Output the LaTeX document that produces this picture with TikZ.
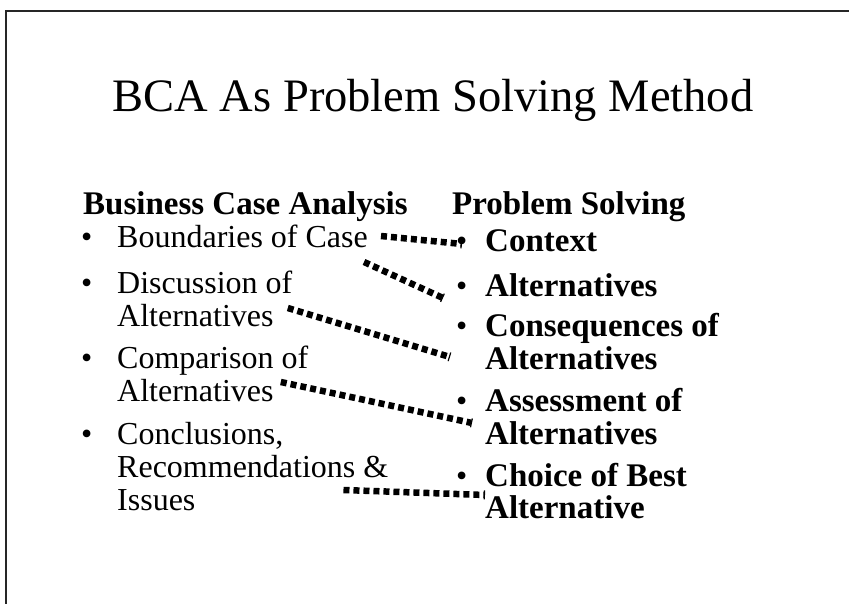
\documentclass[tikz,border=0pt]{standalone}
\usepackage{fontspec}
\setmainfont{Liberation Serif}
\usetikzlibrary{arrows.meta}
\tikzset{body/.style={anchor=base west, inner sep=0pt, font=\fontsize{32}{36}\selectfont}}
\tikzset{bold/.style={body, font=\fontsize{33}{36}\selectfont\bfseries}}
\tikzset{link/.style={line width=6.5pt, dash pattern=on 6pt off 4pt, -{Bar[width=9pt, line width=1.2pt]}}}

\begin{document}
\begin{tikzpicture}[x=1pt, y=-1pt]
      \useasboundingbox (0, 0) rectangle (849, 604);
      \draw[line width=1.7pt, black!85] (852, 11) -- (6, 11) -- (6, 606);

      \node[anchor=base, inner sep=0pt, font=\fontsize{46.5}{50}\selectfont] (title) at (433, 112) {BCA As Problem Solving Method};

      % left column
      \node[bold] (hl) at (83, 215) {Business Case Analysis};
      \node[body] (b1) at (81, 248) {•};
      \node[body] (bnd) at (117, 248) {Boundaries of Case};
      \node[body] (b2) at (81, 293) {•};
      \node[body] (dis1) at (117, 293) {Discussion of};
      \node[body] (dis2) at (117, 326) {Alternatives};
      \node[body] (b3) at (81, 368) {•};
      \node[body] (cmp1) at (117, 368) {Comparison of};
      \node[body] (cmp2) at (117, 401) {Alternatives};
      \node[body] (b4) at (81, 444) {•};
      \node[body] (con1) at (117, 444) {Conclusions,};
      \node[body] (con2) at (117, 477) {Recommendations \&};
      \node[body] (con3) at (117, 510) {Issues};

      % right column
      \node[bold] (hr) at (452, 215) {Problem Solving};
      \node[body] (c1) at (456, 252) {•};
      \node[bold] (ctx) at (485, 252) {Context};
      \node[body] (c2) at (456, 296) {•};
      \node[bold] (alt) at (485, 296) {Alternatives};
      \node[body] (c3) at (456, 336) {•};
      \node[bold] (csq1) at (485, 336) {Consequences of};
      \node[bold] (csq2) at (485, 369) {Alternatives};
      \node[body] (c4) at (456, 411) {•};
      \node[bold] (asm1) at (485, 411) {Assessment of};
      \node[bold] (asm2) at (485, 444) {Alternatives};
      \node[body] (c5) at (456, 486) {•};
      \node[bold] (cho1) at (485, 486) {Choice of Best};
      \node[bold] (cho2) at (485, 518) {Alternative};

      \draw[link] ([shift={(13, -12)}]bnd.base east) -- ([shift={(6, -8)}]c1.base west);
      \draw[link] ([shift={(-4, 14)}]bnd.base east) -- ([shift={(-13, 2)}]c2.base west);
      \draw[link] ([shift={(14, -18)}]dis2.base east) -- ([shift={(-35, -12)}]csq2.base west);
      \draw[link] ([shift={(7, -19)}]cmp2.base east) -- ([shift={(-13, -21)}]asm2.base west);
      \draw[link] ([shift={(-45, 13)}]con2.base east) -- ([shift={(0, -23)}]cho2.base west);
    \end{tikzpicture}
\end{document}
